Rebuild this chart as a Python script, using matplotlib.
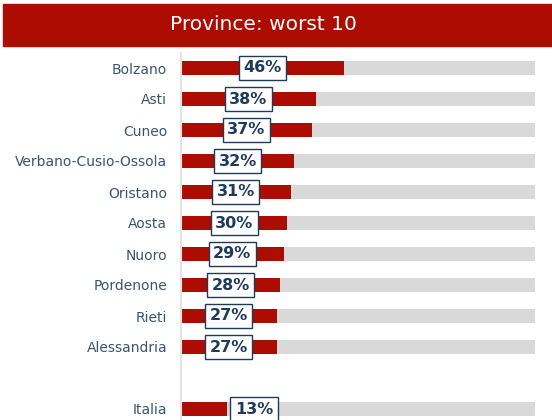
import matplotlib.pyplot as plt
from matplotlib.patches import Rectangle

provinces = ['Bolzano', 'Asti', 'Cuneo', 'Verbano-Cusio-Ossola', 'Oristano',
             'Aosta', 'Nuoro', 'Pordenone', 'Rieti', 'Alessandria', 'Italia']
values = [46, 38, 37, 32, 31, 30, 29, 28, 27, 27, 13]
rows = [0, 1, 2, 3, 4, 5, 6, 7, 8, 9, 11]

RED = '#AD0C00'
GREY = '#D9D9D9'
NAVY = '#1F3B5C'
TXT = '#3A5573'

W, H = 552, 420
fig = plt.figure(figsize=(W / 100, H / 100), dpi=100)

# title band
fig.patches.append(Rectangle((3 / W, 1 - 46 / H), 549 / W, 42 / H,
                             transform=fig.transFigure, color=RED, zorder=0))
fig.text(0.478, 1 - 25 / H, 'Province: worst 10', color='white', fontsize=14.5,
         ha='center', va='center')

ax = fig.add_axes([181 / W, 0, (535 - 181) / W, (H - 53) / H])
ax.set_xlim(0, 100)
ax.set_ylim((420 - 68) / 31, -15 / 31)

bh = 0.42
ax.barh(rows, [100] * len(rows), height=bh, color=GREY, zorder=1)
ax.barh(rows, values, height=bh, color=RED, zorder=2)

for r, v in zip(rows, values):
    if v < 20:
        x, ha = v + 2.2, 'left'
    else:
        x, ha = v / 2, 'center'
    ax.text(x, r, f'{v}%', ha=ha, va='center', fontsize=11.5, fontweight='bold',
            color=NAVY, zorder=3,
            bbox=dict(boxstyle='square,pad=0.28', fc='white', ec=NAVY, lw=1))

ax.set_yticks(rows)
ax.set_yticklabels(provinces, fontsize=10, color=TXT)
ax.tick_params(axis='y', length=0, pad=10)
ax.set_xticks([])
for s in ['top', 'right', 'bottom']:
    ax.spines[s].set_visible(False)
ax.spines['left'].set_color('#E3E3E3')
ax.spines['left'].set_linewidth(1.5)

fig.savefig('out.png', dpi=100)
